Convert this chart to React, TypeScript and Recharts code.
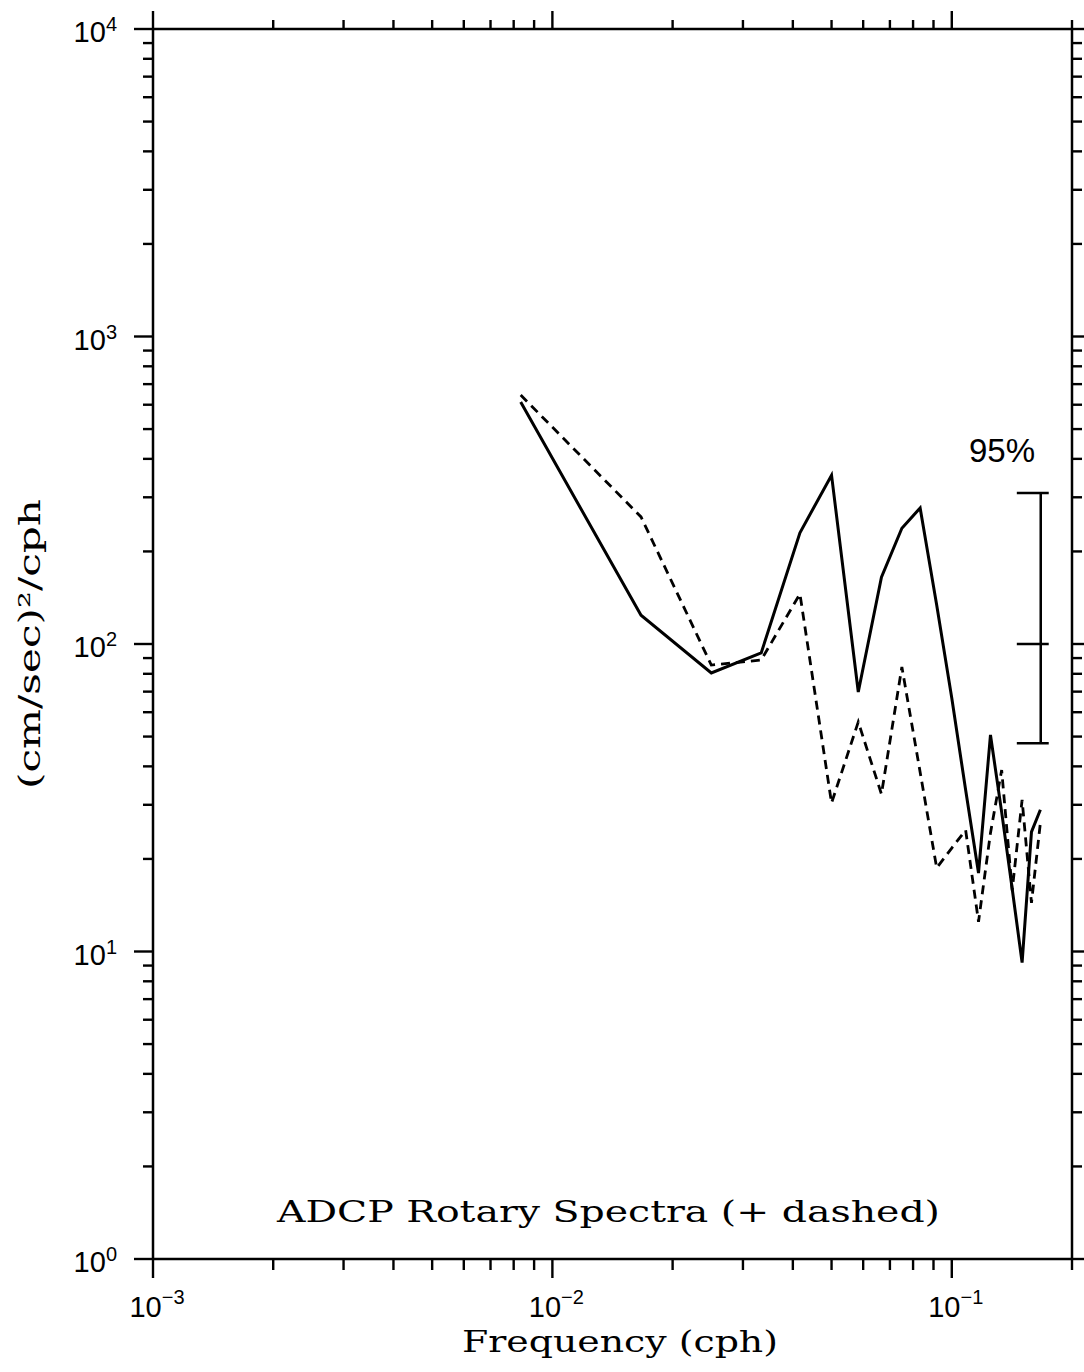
import React from "react";
import { LineChart, Line, XAxis, YAxis, ReferenceLine } from "recharts";

// Frequencies (cph)
const freqs = [
  0.00833, 0.01667, 0.025, 0.03333, 0.04167, 0.05, 0.05833, 0.06667, 0.075, 0.08333,
  0.09167, 0.1, 0.10833, 0.11667, 0.125, 0.13333, 0.14167, 0.15, 0.15833, 0.16667,
];
// Solid (minus) rotary spectrum
const minusSpec = [
  612, 124, 80.5, 93.5, 230, 354, 69.8, 165, 238, 277,
  134, 66.7, 33.5, 18.0, 50.6, 28.4, 16.0, 9.2, 24.5, 28.9,
];
// Dashed (plus) rotary spectrum
const plusSpec = [
  645, 259, 85.4, 88.7, 145.5, 30.4, 55.8, 32.5, 84.2, 38.3,
  18.7, 21.7, 24.8, 12.5, 24.3, 38.9, 15.8, 31.1, 14.4, 26.2,
];

const xTicks = [
  0.001, 0.002, 0.003, 0.004, 0.005, 0.006, 0.007, 0.008, 0.009,
  0.01, 0.02, 0.03, 0.04, 0.05, 0.06, 0.07, 0.08, 0.09,
  0.1, 0.2,
];
const yTicks = [
  1, 2, 3, 4, 5, 6, 7, 8, 9,
  10, 20, 30, 40, 50, 60, 70, 80, 90,
  100, 200, 300, 400, 500, 600, 700, 800, 900,
  1000, 2000, 3000, 4000, 5000, 6000, 7000, 8000, 9000,
  10000,
];
const xDomain = [0.001, 0.2];
const yDomain = [1, 10000];

// 95% confidence bar
const ciX = 0.167;
const ciCapLeft = 0.1455;
const ciCapRight = 0.1749;
const ciTop = 310;
const ciMid = 100;
const ciBottom = 47.6;

const titleText = "ADCP Rotary Spectra (+ dashed)";
const xLabelText = "Frequency (cph)";
const yLabelText = "(cm/sec)²/cph";
const ciText = "95%";

const data = freqs.map((f, i) => ({ f, minus: minusSpec[i], plus: plusSpec[i] }));

const isDecade = (v: number) => Math.abs(Math.log10(v) - Math.round(Math.log10(v))) < 1e-9;
const expStr = (v: number) => {
  const e = Math.round(Math.log10(v));
  return e < 0 ? "\u2212" + String(-e) : String(e);
};

const SANS = "Liberation Sans, Arial, sans-serif";
const SERIF = "DejaVu Serif, serif";

const BottomTick = (props: any) => {
  const { x, y, payload } = props;
  const v = payload.value;
  const major = isDecade(v);
  return (
    <g>
      <line x1={x} x2={x} y1={y} y2={y + (major ? 19 : 11)} stroke="#000" strokeWidth={2.4} />
      {major && (
        <text x={x + 4} y={y + 58} textAnchor="middle" fontFamily={SANS} fontSize={29} fill="#000">
          10
          <tspan dy={-13} fontSize={20}>{expStr(v)}</tspan>
        </text>
      )}
    </g>
  );
};

const TopTick = (props: any) => {
  const { x, y, payload } = props;
  const major = isDecade(payload.value);
  return <line x1={x} x2={x} y1={y} y2={y - (major ? 18 : 9)} stroke="#000" strokeWidth={2.4} />;
};

const LeftTick = (props: any) => {
  const { x, y, payload } = props;
  const v = payload.value;
  const major = isDecade(v);
  return (
    <g>
      <line x1={x} x2={x - (major ? 19 : 10)} y1={y} y2={y} stroke="#000" strokeWidth={2.4} />
      {major && (
        <text x={x - 36} y={y + 13} textAnchor="end" fontFamily={SANS} fontSize={29} fill="#000">
          10
          <tspan dy={-11} fontSize={20}>{expStr(v)}</tspan>
        </text>
      )}
    </g>
  );
};

const RightTick = (props: any) => {
  const { x, y, payload } = props;
  const major = isDecade(payload.value);
  return <line x1={x} x2={x + (major ? 19 : 10)} y1={y} y2={y} stroke="#000" strokeWidth={2.4} />;
};

export default function App() {
  return (
    <div style={{ position: "absolute", left: 0, top: 0, width: 1084, height: 1372, background: "#fff" }}>
      <LineChart width={1084} height={1372} data={data} margin={{ top: 0, right: 0, bottom: 0, left: 0 }}>
        <XAxis
          xAxisId="bottom"
          dataKey="f"
          type="number"
          scale="log"
          domain={xDomain}
          allowDataOverflow
          ticks={xTicks}
          interval={0}
          tickSize={0}
          tickMargin={0}
          tickLine={false}
          tick={<BottomTick />}
          height={113}
          orientation="bottom"
          axisLine={{ stroke: "#000", strokeWidth: 2.5 }}
        />
        <XAxis
          xAxisId="top"
          dataKey="f"
          type="number"
          scale="log"
          domain={xDomain}
          allowDataOverflow
          ticks={xTicks}
          interval={0}
          tickSize={0}
          tickMargin={0}
          tickLine={false}
          tick={<TopTick />}
          height={29}
          orientation="top"
          axisLine={{ stroke: "#000", strokeWidth: 2.5 }}
        />
        <YAxis
          yAxisId="left"
          type="number"
          scale="log"
          domain={yDomain}
          allowDataOverflow
          ticks={yTicks}
          interval={0}
          tickSize={0}
          tickMargin={0}
          tickLine={false}
          tick={<LeftTick />}
          width={153}
          orientation="left"
          axisLine={{ stroke: "#000", strokeWidth: 2.5 }}
        />
        <YAxis
          yAxisId="right"
          type="number"
          scale="log"
          domain={yDomain}
          allowDataOverflow
          ticks={yTicks}
          interval={0}
          tickSize={0}
          tickMargin={0}
          tickLine={false}
          tick={<RightTick />}
          width={12}
          orientation="right"
          axisLine={{ stroke: "#000", strokeWidth: 2.5 }}
        />
        <Line
          xAxisId="bottom"
          yAxisId="left"
          type="linear"
          dataKey="minus"
          stroke="#000"
          strokeWidth={3}
          dot={false}
          isAnimationActive={false}
        />
        <Line
          xAxisId="bottom"
          yAxisId="left"
          type="linear"
          dataKey="plus"
          stroke="#000"
          strokeWidth={2.8}
          strokeDasharray="9 6"
          dot={false}
          isAnimationActive={false}
        />
        <ReferenceLine
          xAxisId="bottom"
          yAxisId="left"
          segment={[{ x: ciX, y: ciTop }, { x: ciX, y: ciBottom }]}
          stroke="#000"
          strokeWidth={2.5}
          ifOverflow="visible"
        />
        <ReferenceLine
          xAxisId="bottom"
          yAxisId="left"
          segment={[{ x: ciCapLeft, y: ciTop }, { x: ciCapRight, y: ciTop }]}
          stroke="#000"
          strokeWidth={2.5}
          ifOverflow="visible"
        />
        <ReferenceLine
          xAxisId="bottom"
          yAxisId="left"
          segment={[{ x: ciCapLeft, y: ciMid }, { x: ciCapRight, y: ciMid }]}
          stroke="#000"
          strokeWidth={2.5}
          ifOverflow="visible"
        />
        <ReferenceLine
          xAxisId="bottom"
          yAxisId="left"
          segment={[{ x: ciCapLeft, y: ciBottom }, { x: ciCapRight, y: ciBottom }]}
          stroke="#000"
          strokeWidth={2.5}
          ifOverflow="visible"
        />
        <g>
          <text x={1035} y={462} textAnchor="end" fontFamily={SANS} fontSize={33} fill="#000">
            {ciText}
          </text>
          <text
            x={277}
            y={1222}
            fontFamily={SERIF}
            fontSize={30}
            textLength={663}
            lengthAdjust="spacingAndGlyphs"
            fill="#000"
          >
            {titleText}
          </text>
          <text
            x={462}
            y={1352}
            fontFamily={SERIF}
            fontSize={30}
            textLength={316}
            lengthAdjust="spacingAndGlyphs"
            fill="#000"
          >
            {xLabelText}
          </text>
          <text
            x={40}
            y={644}
            transform="rotate(-90, 40, 644)"
            textAnchor="middle"
            fontFamily={SERIF}
            fontSize={30}
            textLength={290}
            lengthAdjust="spacingAndGlyphs"
            fill="#000"
          >
            {yLabelText}
          </text>
        </g>
      </LineChart>
    </div>
  );
}
